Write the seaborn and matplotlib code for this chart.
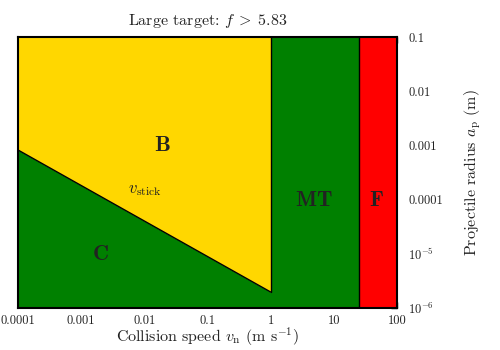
import matplotlib
matplotlib.use("Agg")
import matplotlib.pyplot as plt
import seaborn as sns
import numpy as np
import pandas as pd

# Data
x_ticks = [1e-4, 1e-3, 1e-2, 1e-1, 1, 10, 100]
x_ticklabels = ["0.0001", "0.001", "0.01", "0.1", "1", "10", "100"]
y_ticks = [1e-6, 1e-5, 1e-4, 1e-3, 1e-2, 1e-1]
y_ticklabels = [r"$10^{-6}$", r"$10^{-5}$", "0.0001", "0.001", "0.01", "0.1"]

v_stick_speed = [1e-4, 1.0]          # m/s
v_stick_radius = [8.3e-4, 2.0e-6]    # m
v_mt = 1.0       # bounce/coagulation -> mass transfer
v_frag = 25.0    # mass transfer -> fragmentation
v_max = 100.0
a_min, a_max = 1e-6, 0.1

region_labels = ["B", "C", "MT", "F"]
region_x = [0.0195, 0.002, 4.8, 48.0]
region_y = [1e-3, 1e-5, 1e-4, 1e-4]

sns.set_style("ticks")
plt.rcParams["font.family"] = ["cmr10", "DejaVu Serif"]
plt.rcParams["mathtext.fontset"] = "cm"
plt.rcParams["axes.unicode_minus"] = False
plt.rcParams["axes.formatter.use_mathtext"] = True

fig = plt.figure(figsize=(5, 3.5), dpi=100)
ax = fig.add_axes([0.036, 0.119, 0.758, 0.775])
ax.set_xscale("log")
ax.set_yscale("log")

gold, green, red = "#FFD700", "#008000", "#FF0000"

# background regions
ax.fill_between(v_stick_speed, v_stick_radius, a_max, color=gold, lw=0, zorder=1)
ax.fill_between(v_stick_speed, a_min, v_stick_radius, color=green, lw=0, zorder=1)
ax.axvspan(v_mt, v_frag, color=green, lw=0, zorder=1)
ax.axvspan(v_frag, v_max, color=red, lw=0, zorder=1)

df = pd.DataFrame({"v": v_stick_speed, "a": v_stick_radius})
sns.lineplot(data=df, x="v", y="a", color="black", lw=1.0, ax=ax, zorder=3)
ax.plot([v_mt, v_mt], [v_stick_radius[1], a_max], color="black", lw=1.0, zorder=3)
ax.axvline(v_frag, color="black", lw=1.0, zorder=3)

for lab, xx, yy in zip(region_labels, region_x, region_y):
    ax.text(xx, yy, r"$\mathbf{%s}$" % lab, fontsize=16, ha="center", va="center",
            color="#222222", zorder=4)
ax.text(0.01, 1.5e-4, r"$v_{\rm stick}$", fontsize=12, ha="center", va="center",
        color="#222222", zorder=4)

ax.set_xlim(1e-4, v_max)
ax.set_ylim(a_min, a_max)
ax.set_xticks(x_ticks)
ax.set_xticklabels(x_ticklabels)
ax.set_yticks(y_ticks)
ax.set_yticklabels(y_ticklabels)
ax.minorticks_off()
ax.yaxis.tick_right()
ax.yaxis.set_label_position("right")
ax.tick_params(axis="both", which="major", direction="in", length=4, width=1,
               labelsize=9, top=True, bottom=True, right=True, left=False,
               color="black", labelcolor="#222222")
ax.tick_params(axis="x", pad=5)
ax.tick_params(axis="y", pad=8)
for s in ax.spines.values():
    s.set_visible(True)
    s.set_linewidth(1.5)
    s.set_color("black")
    s.set_zorder(5)

ax.set_xlabel(r"Collision speed $v_{\rm n}$ (m s$^{-1}$)", fontsize=11.5, color="#222222", labelpad=-1)
ax.set_ylabel(r"Projectile radius $a_{\rm p}$ (m)", fontsize=11.5, color="#222222", labelpad=14)
ax.set_title(r"Large target: $f\;>\;5.83$", fontsize=11.5, color="#222222", pad=9)

fig.savefig("out.png", dpi=100)
